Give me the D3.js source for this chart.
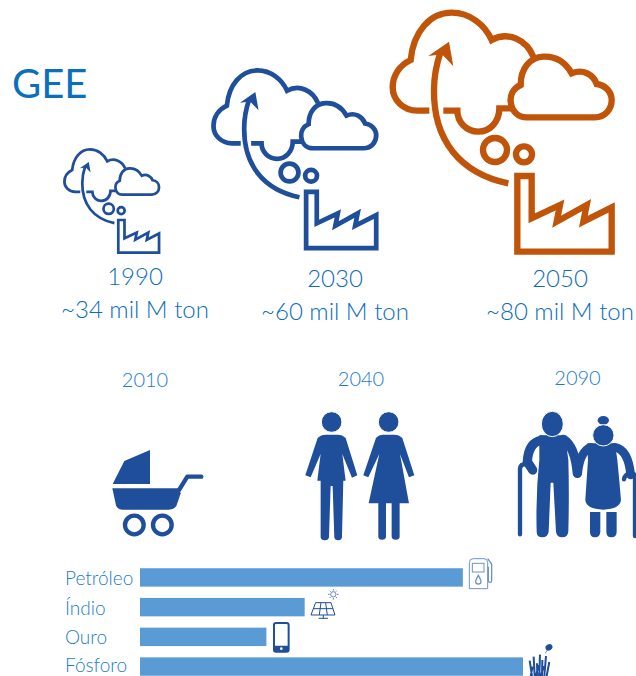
<!DOCTYPE html>
<html>
<head>
<meta charset="utf-8">
<script src="https://cdn.jsdelivr.net/npm/d3@7"></script>
<style>
    html, body { margin: 0; padding: 0; background: #fff; }
    svg { display: block; font-family: Lato, sans-serif; font-weight: 300; }
</style>
</head>
<body>
<svg width="636" height="676"></svg>
<script>
const title = 'GEE'

// emissions
const geeYears = ['1990', '2030', '2050']
const geeLabels = ['~34 mil M ton', '~60 mil M ton', '~80 mil M ton']

// population
const popYears = ['2010', '2040', '2090']

// resources, as a percentage of the longest bar
const resources = ['Petróleo', 'Índio', 'Ouro', 'Fósforo']
const reserves = [84.3, 43, 33, 100]

const blue = '#1f4e9b'
const orange = '#c05408'
const barBlue = '#5b9bd5'
const textBlue = '#0b6cbd'
const lightBlue = '#1a7ccf'

const svg = d3.select('svg')

svg.append('text')
    .attr('x', 12).attr('y', 98)
    .attr('font-size', 40)
    .attr('font-weight', 400)
    .attr('fill', '#0a70bd')
    .text(title)


// cloud + factory icon, drawn in the coordinates of the big one
function emissionIcon(x, y, k, color) {
    const g = svg.append('g')
        .attr('transform', `translate(${x},${y}) scale(${k})`)
        .attr('fill', 'none')
        .attr('stroke', color)
        .attr('stroke-width', 19)

    const outlines = [
        // big cloud
        'M148,332 H112 C70,332 38,300 38,262 C38,225 60,195 92,180 C100,95 150,38 215,38 C270,38 315,75 335,120 C385,92 440,120 460,170',
        // bowl under it
        'M190,332 H232 C232,365 258,395 295,395 C330,395 358,365 358,325 H400',
        // small cloud
        'M440,352 H645 C675,352 695,328 695,300 C695,275 675,255 650,252 C640,225 610,205 575,220 C555,185 525,168 490,170 C450,172 422,205 422,255 C400,265 390,285 392,305 C395,335 415,352 440,352 Z',
        // arrow stem
        'M385,550 C240,520 160,420 162,270 C162,230 170,190 182,155',
        // factory
        'M412,755 V528 H455 V655 L540,615 L530,665 L620,615 L610,665 L695,622 V755 Z'
    ]
    outlines.forEach(d => g.append('path').attr('d', d).attr('stroke-linejoin', 'miter').attr('stroke-miterlimit', 8))

    g.append('path')
        .attr('d', 'M145,168 L207,125 L220,199 L186,163 Z')
        .attr('fill', color)
        .attr('stroke', 'none')

    g.append('circle').attr('cx', 345).attr('cy', 450).attr('r', 36)
    g.append('circle').attr('cx', 432).attr('cy', 463).attr('r', 24)
}

emissionIcon(63 - 28 * .144, 148 - 28 * .144, .144, blue)
emissionIcon(211 - 28 * .2477, 68 - 28 * .2477, .2477, blue)
emissionIcon(380, 0, 1 / 3, orange)


// emission labels
const geeX = [135, 335, 560]
const geeY = [285, 287, 287]
svg.selectAll('.geeYear')
    .data(geeYears)
    .enter()
    .append('text')
    .attr('class', 'geeYear')
    .attr('x', (d, i) => geeX[i])
    .attr('y', (d, i) => geeY[i])
    .attr('text-anchor', 'middle')
    .attr('font-size', 24)
    .attr('fill', textBlue)
    .text(d => d)

svg.selectAll('.geeLabel')
    .data(geeLabels)
    .enter()
    .append('text')
    .attr('class', 'geeLabel')
    .attr('x', (d, i) => geeX[i])
    .attr('y', (d, i) => geeY[i] + 33)
    .attr('text-anchor', 'middle')
    .attr('font-size', 24)
    .attr('fill', textBlue)
    .text(d => d)

// population labels
const popX = [145, 361, 577.5]
const popY = [387, 386, 385]
svg.selectAll('.popYear')
    .data(popYears)
    .enter()
    .append('text')
    .attr('class', 'popYear')
    .attr('x', (d, i) => popX[i])
    .attr('y', (d, i) => popY[i])
    .attr('text-anchor', 'middle')
    .attr('font-size', 20)
    .attr('fill', lightBlue)
    .text(d => d)


// stroller + couple
const people = svg.append('g')
    .attr('transform', 'translate(90,360) scale(0.3333)')
    .attr('fill', blue)

people.append('path').attr('d', 'M68,372 L103,303 L180,270 V372 Z')
people.append('path').attr('d', 'M67,385 H265 L272,400 Q264,425 259,438 Q252,449 235,449 H97 Q83,449 78,436 Z')
people.append('path')
    .attr('d', 'M266,392 L292,350 H334')
    .attr('fill', 'none').attr('stroke', blue).attr('stroke-width', 13)
    .attr('stroke-linecap', 'round').attr('stroke-linejoin', 'round')
people.selectAll('.wheel')
    .data([133, 217])
    .enter()
    .append('circle')
    .attr('class', 'wheel')
    .attr('cx', d => d).attr('cy', 495).attr('r', 28)
    .attr('fill', 'none').attr('stroke', blue).attr('stroke-width', 13)

people.append('path').attr('d', 'M683,234 Q692,224 708,224 L742,224 Q758,224 767,234 L802,346 L786,353 L757,282 L767,362 H760 L756,532 Q755,541 745,541 Q734,541 733,532 L728,378 H722 L717,532 Q716,541 704,541 Q693,541 692,532 V362 H682 L692,282 L662,352 L646,346 Z')
people.append('circle').attr('cx', 725).attr('cy', 186).attr('r', 31).attr('stroke', '#fff').attr('stroke-width', 3)
people.append('path').attr('d', 'M858,234 Q866,224 880,224 L912,224 Q928,224 937,234 L973,346 L957,352 L930,282 L957,430 H929 V530 Q929,539 917,539 Q906,539 905,530 V430 H888 V530 Q888,539 876,539 Q865,539 865,530 V430 H836 L868,282 L835,352 L820,346 Z')
people.append('circle').attr('cx', 896).attr('cy', 186).attr('r', 31).attr('stroke', '#fff').attr('stroke-width', 3)


// old couple
const elders = svg.append('g')
    .attr('transform', 'translate(500,360) scale(0.3333)')
    .attr('fill', blue)

elders.append('path').attr('d', 'M118,226 H195 L205,300 Q208,400 205,515 Q203,532 187,532 Q170,532 168,515 L160,368 H152 L146,515 Q143,532 127,532 Q110,532 110,515 Q107,400 118,300 Z')
elders.append('path').attr('d', 'M125,240 Q85,248 82,305 L98,330 M190,238 Q225,260 232,340')
    .attr('fill', 'none').attr('stroke', blue).attr('stroke-width', 28).attr('stroke-linecap', 'round')
elders.append('ellipse').attr('cx', 157).attr('cy', 192).attr('rx', 33).attr('ry', 38).attr('stroke', '#fff').attr('stroke-width', 3)
elders.append('path').attr('d', 'M60,523 V325 Q62,312 78,312')
    .attr('fill', 'none').attr('stroke', blue).attr('stroke-width', 13).attr('stroke-linecap', 'round')

elders.append('path').attr('d', 'M262,250 H345 L352,300 Q358,360 363,420 Q360,447 310,449 Q258,447 256,420 Q260,360 264,300 Z')
elders.append('path').attr('d', 'M272,262 Q240,275 233,340 M345,262 Q385,270 392,345')
    .attr('fill', 'none').attr('stroke', blue).attr('stroke-width', 26).attr('stroke-linecap', 'round')
elders.append('ellipse').attr('cx', 310).attr('cy', 181).attr('rx', 17).attr('ry', 13)
elders.append('circle').attr('cx', 310).attr('cy', 226).attr('r', 32).attr('stroke', '#fff').attr('stroke-width', 3)
elders.append('path').attr('d', 'M270,456 H301 V515 Q300,532 285,532 Q270,532 270,515 Z')
elders.append('path').attr('d', 'M319,456 H350 V515 Q350,532 334,532 Q319,532 319,515 Z')
elders.append('path').attr('d', 'M372,358 Q375,340 395,340 Q405,340 405,352 V528')
    .attr('fill', 'none').attr('stroke', blue).attr('stroke-width', 13).attr('stroke-linecap', 'round')


// resource bars
const x = d3.scaleLinear()
    .domain([0, 100])
    .range([140, 523])

const y = d3.scaleBand()
    .domain(resources)
    .range([562.6, 681.4])
    .paddingInner(.38)
    .paddingOuter(.19)

svg.selectAll('.bar')
    .data(resources)
    .enter()
    .append('rect')
    .attr('class', 'bar')
    .attr('x', x(0))
    .attr('y', d => y(d))
    .attr('width', (d, i) => x(reserves[i]) - x(0))
    .attr('height', y.bandwidth())
    .attr('fill', barBlue)

const yAxis = svg.append('g')
    .attr('transform', `translate(${x(0)},0)`)
    .call(d3.axisLeft(y).tickSize(0))

yAxis.select('.domain').remove()
yAxis.selectAll('text')
    .attr('x', 65 - x(0))
    .attr('y', (d, i) => i == 3 ? -1 : 1.5)  // last one sits right on the bottom edge
    .attr('text-anchor', 'start')
    .attr('font-family', 'Lato, sans-serif')
    .attr('font-size', 19)
    .attr('fill', lightBlue)


// solar panel, phone
const small = svg.append('g')
    .attr('transform', 'translate(50,550) scale(0.3333)')
    .attr('fill', 'none')
    .attr('stroke', blue)
    .attr('stroke-width', 3)

small.append('path').attr('d', 'M797,158 H843 L855,195 H783 Z M790,176 H849 M813,158 L808,195 M827,158 L832,195 M820,195 V205 M806,205 H834')
small.append('circle').attr('cx', 850).attr('cy', 133).attr('r', 8).attr('stroke', '#5f86c4')
small.append('path').attr('d', 'M850,117 V122 M850,144 V149 M834,133 H839 M861,133 H866 M839,122 L842,125 M858,141 L861,144 M861,122 L858,125 M842,141 L839,144').attr('stroke', '#5f86c4')

small.append('rect')
    .attr('x', 672).attr('y', 219).attr('width', 44).attr('height', 86).attr('rx', 6)
    .attr('stroke-width', 6)
small.append('rect')
    .attr('x', 672).attr('y', 287).attr('width', 44).attr('height', 18).attr('rx', 4)
    .attr('fill', blue).attr('stroke', 'none')
small.append('circle').attr('cx', 694).attr('cy', 296).attr('r', 4).attr('fill', '#fff').attr('stroke', 'none')


// fuel pump, grass
const small2 = svg.append('g')
    .attr('transform', 'translate(440,550) scale(0.3333)')
    .attr('fill', 'none')
    .attr('stroke', '#6f92cf')
    .attr('stroke-width', 3)

small2.append('path').attr('d', 'M88,116 V38 Q88,26 100,26 H132 Q143,26 143,38 V116 Z')
small2.append('rect').attr('x', 97).attr('y', 40).attr('width', 35).attr('height', 26)
small2.append('path').attr('d', 'M115,76 Q107,90 107,95 Q107,102 115,102 Q123,102 123,95 Q123,90 115,76 Z').attr('stroke-width', 4)
small2.append('path').attr('d', 'M143,26 L155,42 V92 Q155,97 150,97 Q145,97 145,92 V50').attr('stroke-width', 4)

const blades = svg.append('g')
    .attr('transform', 'translate(440,550) scale(0.3333)')
    .attr('fill', 'none')
    .attr('stroke', blue)
    .attr('stroke-width', 6)

blades.append('path').attr('d', 'M276,378 L269,332 M284,378 L281,320 M292,378 L291,340 M298,378 L300,314 M306,378 L307,330 M313,378 L318,318 M320,378 L328,336 M272,378 L278,350 M302,378 L312,348 M288,378 L296,345')
blades.append('ellipse')
    .attr('cx', 327).attr('cy', 292).attr('rx', 11).attr('ry', 9)
    .attr('fill', blue).attr('stroke', 'none')
    .attr('transform', 'rotate(-35 327 292)')
blades.append('path')
    .attr('d', 'M316,310 L322,300')
    .attr('stroke', '#6f92cf').attr('stroke-width', 3)
</script>
</body>
</html>
